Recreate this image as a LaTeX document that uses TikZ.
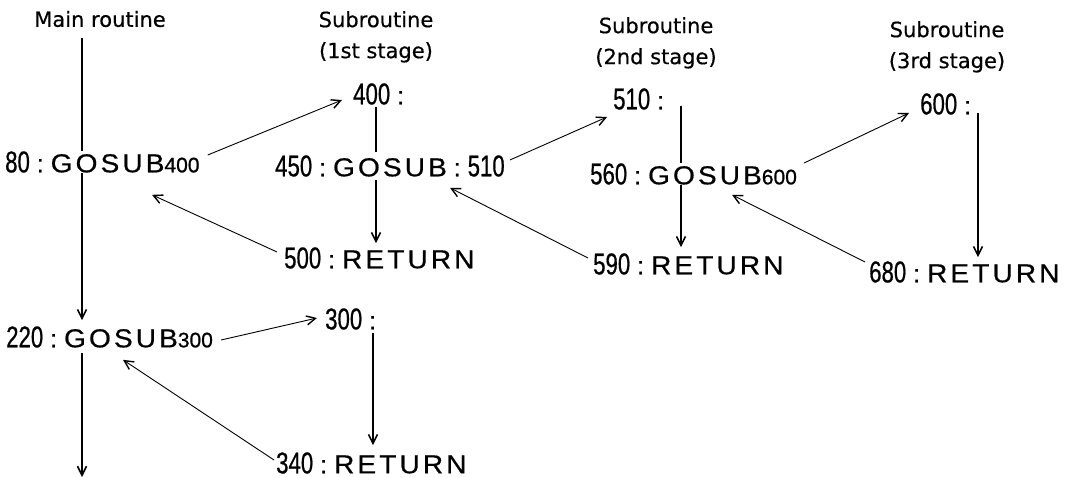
\documentclass[tikz,border=0pt]{standalone}
\usepackage{fontspec}
\usepackage{graphicx}
\usetikzlibrary{arrows.meta}
\newfontfamily\kwfont[LetterSpace=11,FakeBold=0.6]{Liberation Sans}
\newfontfamily\numfont[FakeBold=0.8]{Liberation Sans}
\newfontfamily\labfont[FakeBold=0.5]{DejaVu Sans}
\newcommand\bn[1]{\scalebox{0.74}[1]{\fontsize{30}{30}\numfont\selectfont #1}}
\newcommand\sn[1]{{\fontsize{21}{21}\numfont\selectfont #1}}
\newcommand\kw[1]{\scalebox{1.08}[1]{\fontsize{26}{26}\kwfont\selectfont #1}}
\newcommand\cl{{\fontsize{25}{25}\numfont\selectfont\ :\ }}
\tikzset{
  code/.style={inner sep=0pt, anchor=west},
  lab/.style={inner sep=0pt, align=center, font=\fontsize{21}{31}\labfont\selectfont},
  vline/.style={line width=1.6pt},
  varr/.style={vline, -{Straight Barb[length=9pt,width=9pt]}},
  darr/.style={line width=0.9pt, -{Straight Barb[length=9pt,width=9pt,line width=1.4pt]}}
}
\begin{document}
\begin{tikzpicture}[x=1pt,y=-1pt]
\useasboundingbox (0,0) rectangle (1067,478);
% labels
\node[lab] (lmain) at (100,19) {Main routine};
\node[lab, anchor=north] (lsub1) at (376,11) {Subroutine\\(1st stage)};
\node[lab, anchor=north] (lsub2) at (656,17) {Subroutine\\(2nd stage)};
\node[lab, anchor=north] (lsub3) at (947,21) {Subroutine\\(3rd stage)};
% code lines
\node[code] (t80)  at (5,162)   {\bn{80}\cl\kw{GOSUB}\sn{400}};
\node[code] (t400) at (353,94)  {\bn{400}\cl};
\node[code] (t450) at (275,166) {\bn{450}\cl\kw{GOSUB}\cl\bn{510}};
\node[code] (t500) at (284,258) {\bn{500}\cl\kw{RETURN}};
\node[code] (t510) at (613,99)  {\bn{510}\cl};
\node[code] (t560) at (590,174) {\bn{560}\cl\kw{GOSUB}\sn{600}};
\node[code] (t590) at (593,264) {\bn{590}\cl\kw{RETURN}};
\node[code] (t600) at (920,104) {\bn{600}\cl};
\node[code] (t680) at (869,272) {\bn{680}\cl\kw{RETURN}};
\node[code] (t220) at (6,337)   {\bn{220}\cl\kw{GOSUB}\sn{300}};
\node[code] (t300) at (325,319) {\bn{300}\cl};
\node[code] (t340) at (276,463) {\bn{340}\cl\kw{RETURN}};
% vertical flow lines
\coordinate (m) at (82,38);
\coordinate (mend) at (82,477);
\coordinate (l1) at (376,107);
\coordinate (l2) at (681,106);
\coordinate (l3) at (978,113);
\coordinate (l4) at (373,333);
\draw[vline] (m) -- (m |- t80.north);
\draw[varr, shorten >=6pt] (m |- t80.south) -- (m |- t220.north);
\draw[varr, shorten <=5pt] (m |- t220.south) -- (mend);
\draw[vline, shorten >=3pt] (l1) -- (l1 |- t450.north);
\draw[varr, shorten <=3pt, shorten >=4pt] (l1 |- t450.south) -- (l1 |- t500.north);
\draw[vline] (l2) -- (l2 |- t560.north);
\draw[varr, shorten >=6pt] (l2 |- t560.south) -- (l2 |- t590.north);
\draw[varr, shorten >=4pt] (l3) -- (l3 |- t680.north);
\draw[varr, shorten >=7pt] (l4) -- (l4 |- t340.north);
% calls and returns
\draw[darr] ([shift={(8,-7)}]t80.east) -- ([shift={(-11,6)}]t400.west);
\draw[darr] ([shift={(-7,-6)}]t500.west) -- ([shift={(147,22)}]t80.south west);
\draw[darr] ([shift={(5,-6)}]t450.east) -- ([shift={(-6,18)}]t510.west);
\draw[darr] ([shift={(-5,-6)}]t590.west) -- ([shift={(175,11)}]t450.south west);
\draw[darr] ([shift={(7,-11)}]t560.east) -- ([shift={(-11,9)}]t600.west);
\draw[darr] ([shift={(-4,-10)}]t680.west) -- ([shift={(142,10)}]t560.south west);
\draw[darr] ([shift={(8,3)}]t220.east) -- ([shift={(-8,-1)}]t300.west);
\draw[darr] ([shift={(-2,-3)}]t340.west) -- ([shift={(117,12)}]t220.south west);
\end{tikzpicture}
\end{document}
